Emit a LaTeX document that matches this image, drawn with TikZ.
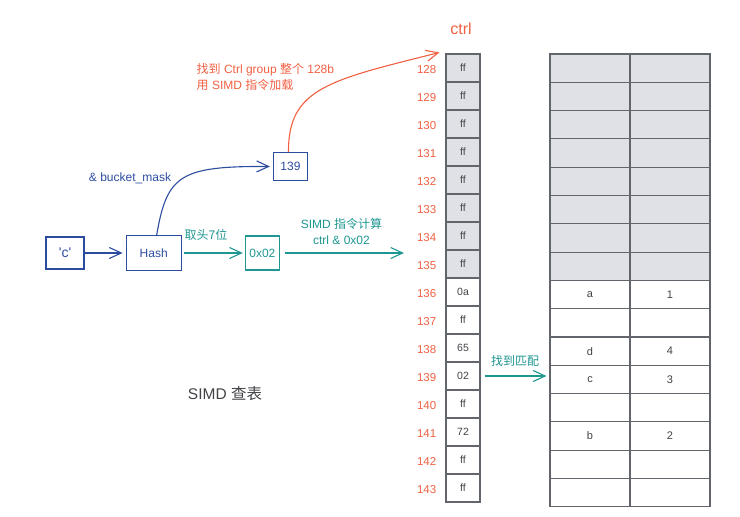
\documentclass[tikz,border=0pt]{standalone}
\usepackage{fontspec}
\setmainfont{Liberation Sans}
\newfontfamily\cjk{Noto Sans CJK SC}
\usetikzlibrary{arrows.meta, positioning}

\definecolor{hashblue}{RGB}{44,76,160}
\definecolor{topteal}{RGB}{30,150,145}
\definecolor{ctrlred}{RGB}{240,96,66}
\definecolor{cellgray}{RGB}{224,225,230}
\definecolor{gridgray}{RGB}{98,102,108}
\definecolor{inkgray}{RGB}{64,66,70}

\begin{document}
\begin{tikzpicture}[
  x=1pt, y=-1pt,
  box/.style={draw=hashblue, line width=1.2pt, text=hashblue, inner sep=0pt, font=\fontsize{12}{14}\selectfont},
  cell/.style={draw=gridgray, line width=1.1pt, minimum width=34pt, minimum height=28pt, inner sep=0pt, text=inkgray, font=\fontsize{10.5}{12}\selectfont},
  slot/.style={draw=gridgray, line width=1.1pt, minimum width=80pt, minimum height=28.3pt, inner sep=0pt, text=inkgray, font=\fontsize{11}{13}\selectfont},
  rownum/.style={text=ctrlred, inner sep=0pt, font=\fontsize{11.5}{13}\selectfont},
  note/.style={inner sep=0pt, align=center, font=\fontsize{12}{16}\selectfont},
  arrow/.style={-{Straight Barb[length=12pt, width=11pt]}, line width=1.1pt}
]
\useasboundingbox (0,0) rectangle (740,517);

% hash path
\node[box, minimum width=38pt, minimum height=32pt, font=\fontsize{14}{16}\selectfont] (chr) at (65,253) {\textquotesingle c\textquotesingle};
\node[box, minimum width=55pt, minimum height=35pt, right=41pt of chr] (hash) {Hash};
\node[box, draw=topteal, text=topteal, minimum width=34pt, minimum height=34pt, right=63pt of hash] (hex) {0x02};
\node[box, minimum width=34pt, minimum height=28pt] (mask) at (290.5,166.5) {139};
\coordinate (simdend) at (404,253);

% ctrl bytes
\foreach \v [count=\i from 0] in {ff,ff,ff,ff,ff,ff,ff,ff,0a,ff,65,02,ff,72,ff,ff} {
  \ifnum\i<8 \def\cellfill{cellgray}\else\def\cellfill{white}\fi
  \pgfmathtruncatemacro\rowno{128+\i}
  \node[cell, fill=\cellfill] (ctrl\i) at (463,68+28*\i) {\v};
  \node[rownum, left=9pt of ctrl\i, yshift=-1.5pt] (num\i) {\rowno};
}

% buckets
\foreach \k/\v [count=\i from 0] in {/,/,/,/,/,/,/,/,a/1,/,d/4,c/3,/,b/2,/,/} {
  \ifnum\i<8 \def\cellfill{cellgray}\else\def\cellfill{white}\fi
  \node[slot, fill=\cellfill] (bucketk\i) at (590,68.15+28.3*\i) {\k};
  \node[slot, fill=\cellfill] (bucketv\i) at (670,68.15+28.3*\i) {\v};
}

\draw[arrow, hashblue, shorten >=3pt] (chr) -- (hash);
\draw[arrow, topteal, shorten <=2pt, shorten >=2pt] (hash) -- (hex);
\draw[arrow, topteal, shorten <=5pt] (hex) -- (simdend);
\draw[arrow, topteal, shorten <=4pt, shorten >=3pt] (ctrl11.east) -- (ctrl11.east -| bucketk11.west);
\draw[arrow, hashblue, shorten >=3pt] ([xshift=3pt]hash.north) .. controls (167,175) and (180,166) .. (mask.west);
\draw[arrow, ctrlred] ([xshift=-2pt]mask.north) .. controls (288,88) and (330,80) .. ([xshift=-6pt,yshift=1pt]ctrl0.north west);

% labels
\node[note, text=hashblue] (masklabel) at (130,178) {\& bucket\_mask};
\node[note, text=topteal] (takelabel) at (206,235) {{\cjk 取头7位}};
\node[note, text=topteal] (simdlabel) at (341.5,231) {SIMD {\cjk 指令计算}\\ctrl \& 0x02};
\node[note, text=topteal] (matchlabel) at (515,361) {{\cjk 找到匹配}};
\node[note, text=ctrlred, align=left, anchor=west] (loadlabel) at (196.5,77) {{\cjk 找到} Ctrl group {\cjk 整个} 128b\\{\cjk 用} SIMD {\cjk 指令加载}};
\node[note, text=ctrlred, font=\fontsize{16}{18}\selectfont] (ctrltitle) at (461,29) {ctrl};
\node[note, text=inkgray, font=\fontsize{15.5}{18}\selectfont] (title) at (225,394) {SIMD {\cjk 查表}};

\end{tikzpicture}
\end{document}
